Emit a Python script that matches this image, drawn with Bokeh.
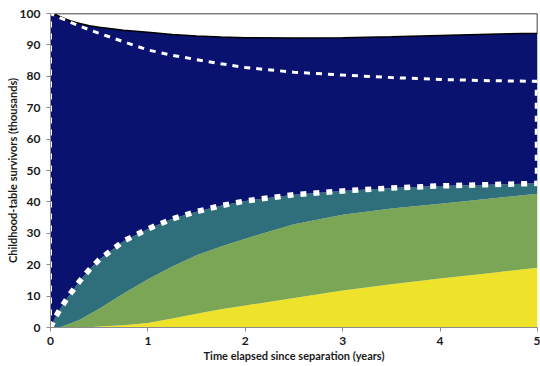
from bokeh.plotting import figure
from bokeh.embed import file_html
from bokeh.resources import INLINE
from bokeh.models import FixedTicker, Range1d

# time grid (years)
years = [0, 0.05, 0.1, 0.2, 0.3, 0.4, 0.5, 0.75, 1, 1.25, 1.5, 1.75, 2, 2.5, 3, 3.5, 4, 4.5, 5]
# cumulative boundaries (thousands)
yellow_top = [0, 0, 0, 0, 0, 0.05, 0.3, 0.75, 1.4, 2.9, 4.4, 5.8, 7.0, 9.4, 11.8, 13.8, 15.6, 17.3, 19.0]
green_top = [0, 0, 0.1, 1.3, 2.5, 4.2, 6.0, 10.8, 15.4, 19.4, 23.0, 25.8, 28.3, 32.9, 35.9, 37.9, 39.4, 41.0, 42.6]
teal_top = [0, 3.2, 6.0, 10.6, 14.8, 18.5, 21.6, 27.5, 31.4, 34.6, 36.9, 38.8, 40.3, 42.3, 43.5, 44.4, 45.1, 45.5, 45.9]
navy_top = [100, 99.6, 99.0, 97.7, 96.8, 96.1, 95.6, 94.7, 94.0, 93.3, 92.8, 92.5, 92.3, 92.2, 92.3, 92.6, 93.0, 93.4, 93.7]
upper_dash = [100, 99.3, 98.6, 97.3, 96.0, 94.8, 93.7, 91.0, 88.4, 86.7, 85.3, 84.0, 82.8, 81.3, 80.4, 79.6, 79.0, 78.6, 78.4]
total = [100] * len(years)

x_ticks = [0, 1, 2, 3, 4, 5]
y_ticks = [0, 10, 20, 30, 40, 50, 60, 70, 80, 90, 100]

NAVY = "#0a1270"
TEAL = "#2e6f7b"
GREEN = "#7ba655"
YELLOW = "#eee22a"
FONT = "Lato"

p = figure(width=540, height=366, output_backend="svg", toolbar_location=None,
           x_range=Range1d(0, 5), y_range=Range1d(0, 100),
           min_border_left=50, min_border_right=3, min_border_top=13, min_border_bottom=39)
p.outline_line_color = None
p.grid.visible = False
p.background_fill_color = "white"
p.border_fill_color = "white"

p.varea(x=years, y1=[0] * len(years), y2=yellow_top, fill_color=YELLOW)
p.varea(x=years, y1=yellow_top, y2=green_top, fill_color=GREEN)
p.varea(x=years, y1=green_top, y2=teal_top, fill_color=TEAL)
p.varea(x=years, y1=teal_top, y2=navy_top, fill_color=NAVY)

# black outline of the white top band
outline_x = years + [years[-1], years[0]]
outline_y = navy_top + [total[-1], total[0]]
p.line(outline_x, outline_y, line_color="black", line_width=1.5)

# thin dashed: left edge and upper curve
thin_x = [years[0]] + years
thin_y = [0] + upper_dash
p.line(thin_x, thin_y, line_color="white", line_width=3, line_dash="6 6")

# thick dashed: lower curve and right edge
thick_x = years + [years[-1]]
thick_y = teal_top + [upper_dash[-1]]
p.line(thick_x, thick_y, line_color="white", line_width=5.5, line_dash="6 7")

for ax in (p.xaxis[0], p.yaxis[0]):
    ax.axis_line_color = "#8c8c8c"
    ax.major_tick_line_color = "#8c8c8c"
    ax.major_tick_in = 0
    ax.major_tick_out = 4
    ax.minor_tick_line_color = None
    ax.major_label_text_font = FONT
    ax.major_label_text_font_style = "bold"
    ax.major_label_text_font_size = "12px"
    ax.major_label_text_color = "#1a1a1a"
    ax.axis_label_text_font = FONT
    ax.axis_label_text_font_style = "bold"
    ax.axis_label_text_font_size = "11px"
    ax.axis_label_text_color = "#1a1a1a"

p.xaxis[0].ticker = FixedTicker(ticks=x_ticks)
p.yaxis[0].ticker = FixedTicker(ticks=y_ticks)
p.xaxis[0].axis_label = "Time elapsed since separation (years)"
p.yaxis[0].axis_label = "Childhood-table survivors (thousands)"
p.xaxis[0].major_label_standoff = 5
p.yaxis[0].major_label_standoff = 6
p.xaxis[0].axis_label_standoff = 1
p.yaxis[0].axis_label_standoff = -2

open("out.html", "w").write(file_html(p, INLINE))
